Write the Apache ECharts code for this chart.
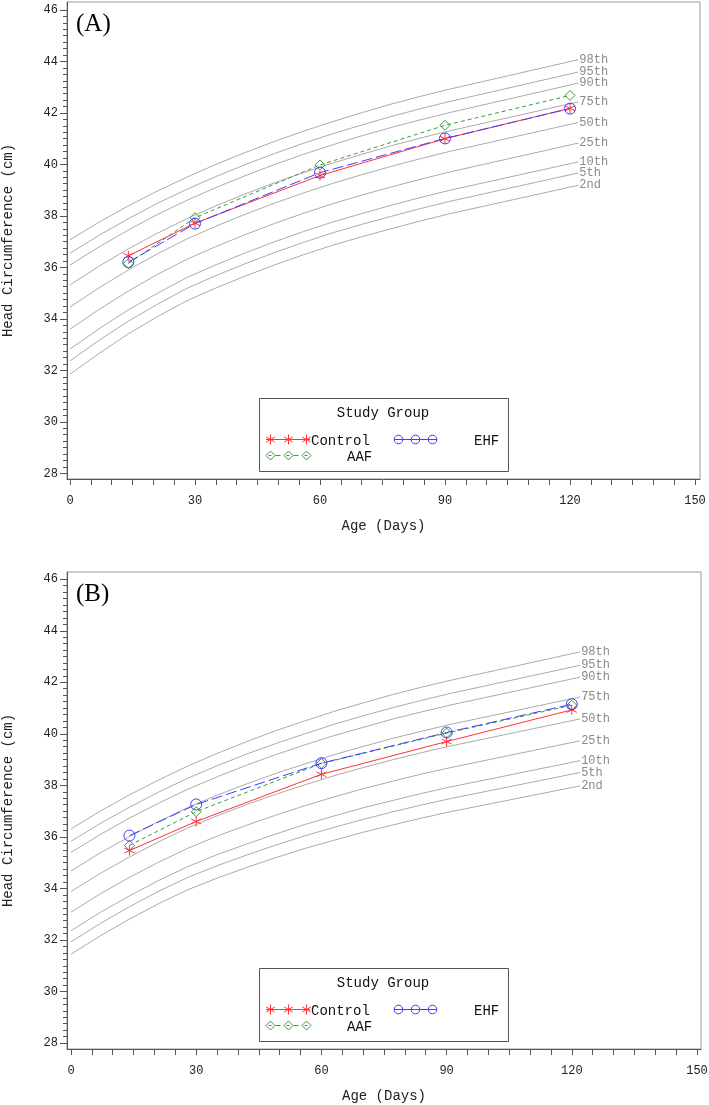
<!DOCTYPE html>
<html><head><meta charset="utf-8">
<script src="https://cdn.jsdelivr.net/npm/echarts@6/dist/echarts.min.js"></script>
<style>html,body{margin:0;padding:0;background:#fff}#c{width:709px;height:1105px}</style>
</head><body><div id="c"></div>
<script>
// ---------- data ----------
const percentileNames = ['98th','95th','90th','75th','50th','25th','10th','5th','2nd'];
const refDays = [0,7,14,21,28,35,42,49,56,63,70,77,84,91,122];
// Panel A reference percentile curves
const aP98 = [37.07,37.76,38.39,38.97,39.50,40.00,40.46,40.89,41.29,41.66,42.01,42.34,42.64,42.92,44.07];
const aP95 = [36.55,37.25,37.89,38.49,39.03,39.53,39.99,40.42,40.82,41.19,41.53,41.86,42.16,42.44,43.59];
const aP90 = [36.09,36.80,37.45,38.06,38.60,39.10,39.56,39.99,40.39,40.76,41.11,41.43,41.73,42.01,43.16];
const aP75 = [35.32,36.05,36.72,37.33,37.89,38.39,38.85,39.28,39.68,40.05,40.39,40.72,41.02,41.30,42.43];
const aP50 = [34.46,35.21,35.90,36.53,37.10,37.60,38.06,38.49,38.89,39.26,39.60,39.92,40.22,40.50,41.63];
const aP25 = [33.60,34.37,35.08,35.73,36.31,36.81,37.27,37.70,38.10,38.47,38.81,39.12,39.42,39.70,40.83];
const aP10 = [32.83,33.62,34.35,35.00,35.60,36.10,36.56,36.99,37.39,37.76,38.09,38.41,38.71,38.99,40.10];
const aP5  = [32.37,33.17,33.91,34.57,35.18,35.68,36.14,36.57,36.97,37.34,37.67,37.98,38.28,38.56,39.67];
const aP2  = [31.85,32.66,33.42,34.09,34.70,35.20,35.66,36.09,36.49,36.86,37.19,37.50,37.80,38.08,39.19];
// Panel B reference percentile curves
const bP98 = [36.31,37.00,37.63,38.21,38.75,39.24,39.69,40.12,40.50,40.87,41.20,41.52,41.81,42.08,43.18];
const bP95 = [35.83,36.52,37.15,37.74,38.28,38.76,39.21,39.62,40.00,40.37,40.70,41.01,41.30,41.57,42.66];
const bP90 = [35.40,36.09,36.73,37.31,37.85,38.33,38.78,39.19,39.57,39.93,40.25,40.57,40.85,41.12,42.20];
const bP75 = [34.68,35.38,36.01,36.60,37.14,37.62,38.05,38.46,38.83,39.19,39.51,39.82,40.10,40.37,41.43];
const bP50 = [33.88,34.58,35.22,35.81,36.35,36.82,37.25,37.65,38.02,38.37,38.69,38.99,39.27,39.53,40.58];
const bP25 = [33.08,33.79,34.43,35.02,35.56,36.03,36.45,36.84,37.21,37.55,37.87,38.16,38.44,38.69,39.73];
const bP10 = [32.36,33.07,33.71,34.31,34.85,35.31,35.72,36.11,36.48,36.81,37.13,37.41,37.69,37.94,38.96];
const bP5  = [31.93,32.64,33.29,33.89,34.43,34.88,35.29,35.68,36.04,36.37,36.68,36.97,37.24,37.49,38.50];
const bP2  = [31.45,32.16,32.81,33.41,33.95,34.40,34.81,35.19,35.55,35.87,36.18,36.46,36.73,36.98,37.98];
// Study group means
const studyDays = [14,30,60,90,120];
const aControl = [36.45,37.72,39.57,41.00,42.18];
const aAAF     = [36.15,37.93,39.98,41.52,42.68];
const aEHF     = [36.20,37.70,39.68,41.01,42.17];
const bControl = [35.47,36.60,38.43,39.70,40.93];
const bAAF     = [35.67,36.98,38.85,40.03,41.11];
const bEHF     = [36.05,37.26,38.86,40.05,41.15];
// Tick labels
const xTickLabels = [0,30,60,90,120,150];
const xTickMarks = [0,5,10,15,20,25,30,35,40,45,50,55,60,65,70,75,80,85,90,95,100,105,110,115,120,125,130,135,140,145,150];
const yTickLabels = [28,30,32,34,36,38,40,42,44,46];
const groupNames = ['Control','AAF','EHF'];

// ---------- styles ----------
const MONO = 'Liberation Mono';
const RED = '#ff3333', GREEN = '#3c9a3c', BLUE = '#3d3dff';
const STAR = 'path://M5,0L5,10M0.67,2.5L9.33,7.5M0.67,7.5L9.33,2.5';
const yMinor = [];
for (let v = 28; v <= 46.001; v += 0.25) { if (Math.abs(v/2 - Math.round(v/2)) > 1e-6) yMinor.push(+v.toFixed(2)); }

const panels = [
  { top: 2, left: 67, right: 9, xmin: -0.72, xmax: 151.2, ymin: 27.78, ymax: 46.31,
    pct: [aP98,aP95,aP90,aP75,aP50,aP25,aP10,aP5,aP2], grp: [aControl,aAAF,aEHF], tag: '(A)' },
  { top: 572, left: 67, right: 8, xmin: -0.96, xmax: 150.96, ymin: 27.77, ymax: 46.28,
    pct: [bP98,bP95,bP90,bP75,bP50,bP25,bP10,bP5,bP2], grp: [bControl,bAAF,bEHF], tag: '(B)' }
];

const grid = [], xAxis = [], yAxis = [], series = [], graphic = [];
panels.forEach((p, i) => {
  grid.push({ left: p.left, right: p.right, top: p.top, height: 477, show: true,
    containLabel: false, outerBoundsMode: 'none',
    borderColor: '#9a9a9a', borderWidth: 1, backgroundColor: 'transparent' });
  xAxis.push({ type: 'value', gridIndex: i, min: p.xmin, max: p.xmax, position: 'bottom',
    axisLine: { show: true, onZero: false, lineStyle: { color: '#555', width: 1 } },
    axisTick: { show: true, inside: false, customValues: xTickMarks, length: 6, lineStyle: { color: '#555' } },
    axisLabel: { customValues: xTickLabels, fontFamily: MONO, fontSize: 12, color: '#222', margin: 16 },
    splitLine: { show: false },
    name: 'Age (Days)', nameLocation: 'middle', nameGap: 40,
    nameTextStyle: { fontFamily: MONO, fontSize: 14, color: '#222' } });
  yAxis.push({ type: 'value', gridIndex: i, min: p.ymin, max: p.ymax, position: 'left',
    axisLine: { show: true, onZero: false, lineStyle: { color: '#555', width: 1 } },
    axisTick: { show: true, inside: false, customValues: yTickLabels, length: 7, lineStyle: { color: '#555' } },
    axisLabel: { customValues: yTickLabels, fontFamily: MONO, fontSize: 12, color: '#222', margin: 9 },
    splitLine: { show: false },
    name: 'Head Circumference (cm)', nameLocation: 'middle', nameGap: 52,
    nameTextStyle: { fontFamily: MONO, fontSize: 14, color: '#222' } });
  yAxis.push({ type: 'value', gridIndex: i, min: p.ymin, max: p.ymax, position: 'left', offset: 0,
    axisLine: { show: false, onZero: false }, axisLabel: { show: false }, splitLine: { show: false },
    axisTick: { show: true, inside: false, customValues: yMinor, length: 4, lineStyle: { color: '#555' } } });
  const yIdx = i * 2;
  p.pct.forEach((vals, k) => {
    series.push({ type: 'line', xAxisIndex: i, yAxisIndex: yIdx, name: percentileNames[k],
      data: refDays.map((d, j) => [d, vals[j]]), showSymbol: false, silent: true, z: 1,
      lineStyle: { color: '#ababab', width: 1 },
      endLabel: { show: true, formatter: percentileNames[k], color: '#8a8a8a',
        fontFamily: MONO, fontSize: 12, distance: 1 } });
  });
  const styles = [
    { color: RED, symbol: STAR, size: 10, type: 'solid' },
    { color: GREEN, symbol: 'diamond', size: 10, type: [4, 3] },
    { color: BLUE, symbol: 'circle', size: 11, type: [11, 4] }
  ];
  p.grp.forEach((vals, k) => {
    const s = styles[k];
    series.push({ type: 'line', xAxisIndex: i, yAxisIndex: yIdx, name: groupNames[k],
      data: studyDays.map((d, j) => [d, vals[j]]), symbol: s.symbol, symbolSize: s.size,
      showAllSymbol: true, z: 3 + (k === 1 ? 0 : 1),
      lineStyle: { color: s.color, width: 1, type: s.type },
      itemStyle: { color: 'rgba(0,0,0,0)', borderColor: s.color, borderWidth: 1 } });
  });

  // panel tag
  graphic.push({ type: 'text', left: 76, top: p.top + 10,
    style: { text: p.tag, fontFamily: 'Liberation Serif', fontSize: 25, fill: '#000' } });

  // legend box
  const lt = p.top + 396;
  graphic.push({ type: 'rect', shape: { x: 259.5, y: lt + 0.5, width: 249, height: 73 },
    style: { fill: 'none', stroke: '#555', lineWidth: 1 }, z: 10 });
  graphic.push({ type: 'text', z: 10, style: { text: 'Study Group', x: 383, y: lt + 15, align: 'center',
    verticalAlign: 'middle', fontFamily: MONO, fontSize: 14, fill: '#111' } });
  const r1 = lt + 41.5, r2 = lt + 57.5;
  const mx = [270.5, 288.5, 306.5];
  // Control row
  graphic.push({ type: 'line', z: 10, shape: { x1: 266, y1: r1, x2: 310, y2: r1 }, style: { stroke: RED, lineWidth: 1 } });
  mx.forEach(cx => {
    [[0,-5,0,5],[-4.3,-2.5,4.3,2.5],[-4.3,2.5,4.3,-2.5]].forEach(s => graphic.push({ type: 'line', z: 10,
      shape: { x1: cx + s[0], y1: r1 + s[1], x2: cx + s[2], y2: r1 + s[3] }, style: { stroke: RED, lineWidth: 1 } }));
  });
  graphic.push({ type: 'text', z: 10, style: { text: 'Control', x: 311, y: r1 + 1.5, verticalAlign: 'middle',
    fontFamily: MONO, fontSize: 14, fill: '#111' } });
  // EHF
  graphic.push({ type: 'line', z: 10, shape: { x1: 394, y1: r1, x2: 437, y2: r1 }, style: { stroke: BLUE, lineWidth: 1 } });
  [398.5, 415.5, 432.5].forEach(cx => graphic.push({ type: 'circle', z: 11,
    shape: { cx: cx, cy: r1, r: 4.3 }, style: { fill: '#fff', stroke: BLUE, lineWidth: 1 } }));
  [398.5, 415.5, 432.5].forEach(cx => graphic.push({ type: 'line', z: 12,
    shape: { x1: cx - 4.3, y1: r1, x2: cx + 4.3, y2: r1 }, style: { stroke: BLUE, lineWidth: 1 } }));
  graphic.push({ type: 'text', z: 10, style: { text: 'EHF', x: 474, y: r1 + 1.5, verticalAlign: 'middle',
    fontFamily: MONO, fontSize: 14, fill: '#111' } });
  // AAF
  mx.forEach((cx, j) => {
    graphic.push({ type: 'polygon', z: 10, shape: { points: [[cx, r2 - 4.5], [cx + 4.5, r2], [cx, r2 + 4.5], [cx - 4.5, r2]] },
      style: { fill: 'none', stroke: GREEN, lineWidth: 1 } });
    graphic.push({ type: 'line', z: 10, shape: { x1: cx - 2, y1: r2, x2: cx + 1, y2: r2 }, style: { stroke: GREEN, lineWidth: 1 } });
    if (j < 2) graphic.push({ type: 'line', z: 10, shape: { x1: cx + 5, y1: r2, x2: cx + 10, y2: r2 }, style: { stroke: GREEN, lineWidth: 1 } });
  });
  graphic.push({ type: 'text', z: 10, style: { text: 'AAF', x: 347, y: r2 + 1.5, verticalAlign: 'middle',
    fontFamily: MONO, fontSize: 14, fill: '#111' } });
});

const chart = echarts.init(document.getElementById('c'), null, { renderer: 'canvas' });
chart.setOption({ animation: false, backgroundColor: '#fff', grid, xAxis, yAxis, series, graphic });
</script></body></html>
